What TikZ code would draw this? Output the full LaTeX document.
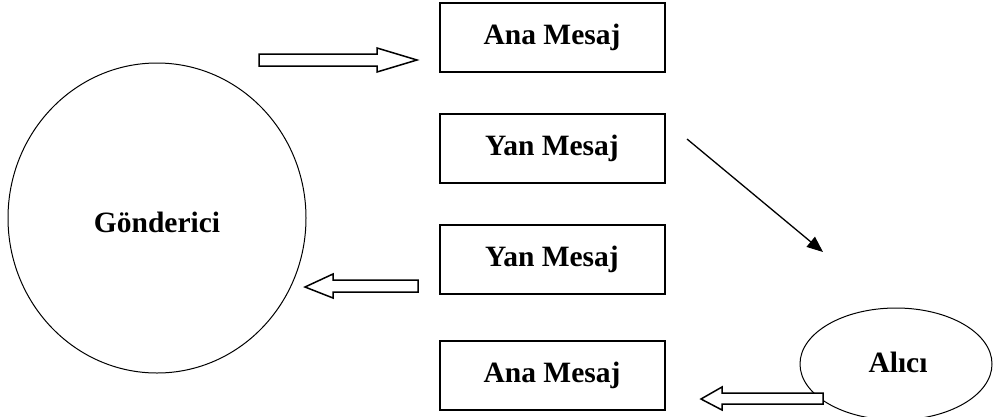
\documentclass[tikz,border=0pt]{standalone}
\usepackage{fontspec}
\setmainfont{Liberation Serif}
\usetikzlibrary{arrows.meta}
\begin{document}
\begin{tikzpicture}[x=1pt,y=-1pt,
  msgbox/.style={draw,line width=2pt,minimum width=225pt,minimum height=69pt,inner sep=0pt,font=\fontsize{29.5}{34}\selectfont\bfseries},
  party/.style={draw,line width=1pt,ellipse,font=\fontsize{29.5}{34}\selectfont\bfseries},
  blockarrow/.style={draw,line width=1.5pt,fill=white,line join=miter}]
\useasboundingbox (0,0) rectangle (996,416);
\node[msgbox] (am1) at (552,37) {Ana Mesaj};
\node[msgbox] (ym1) at (552,148) {Yan Mesaj};
\node[msgbox] (ym2) at (552,259) {Yan Mesaj};
\node[msgbox] (am2) at (552,375) {Ana Mesaj};
\draw[line width=1pt] (157,218) ellipse [x radius=149, y radius=155];
\node[font=\fontsize{29.5}{34}\selectfont\bfseries] (gon) at (157,222) {Gönderici};
\draw[line width=1pt] (896,364) ellipse [x radius=96, y radius=56];
\node[font=\fontsize{29.5}{34}\selectfont\bfseries] (alici) at (898,362) {Alıcı};
% block arrow 1 (to the right)
\draw[blockarrow] (259,54) -- (377,54) -- (377,48) -- (417,60) -- (377,72) -- (377,66) -- (259,66) -- cycle;
% block arrow 2 (to the left)
\draw[blockarrow] (418,280) -- (333,280) -- (333,274) -- (305,287) -- (333,298) -- (333,292) -- (418,292) -- cycle;
% block arrow 3 (to the left)
\draw[blockarrow] (823,393) -- (722,393) -- (722,387) -- (701,399) -- (722,410) -- (722,404) -- (823,404) -- cycle;
% diagonal arrow
\coordinate (d1) at (687,139);
\coordinate (d2) at (823,252);
\draw[line width=1.3pt,-{Triangle[length=16pt,width=13pt]}] (d1) -- (d2);
\end{tikzpicture}
\end{document}
